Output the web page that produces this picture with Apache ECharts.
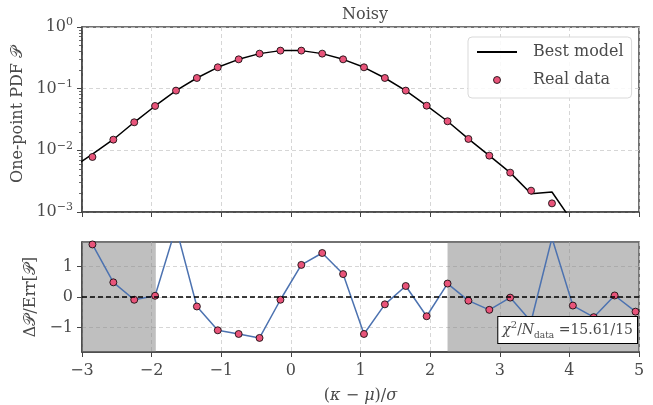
<!DOCTYPE html>
<html><head><meta charset="utf-8">
<script src="https://cdn.jsdelivr.net/npm/echarts@6/dist/echarts.min.js"></script>
<style>html,body{margin:0;padding:0;background:#fff}#c{width:653px;height:405px}</style>
</head><body><div id="c"></div>
<script>
// ---- data ----
const xVals = [-2.85,-2.55,-2.25,-1.95,-1.65,-1.35,-1.05,-0.75,-0.45,-0.15,0.15,0.45,0.75,1.05,1.35,1.65,1.95,2.25,2.55,2.85,3.15,3.45,3.75,4.05,4.35,4.65,4.95];
// real data (points visible above 1e-3, x = -2.85 ... 3.75)
const realData = [0.0078,0.0149,0.0285,0.0524,0.093,0.149,0.222,0.299,0.370,0.414,0.414,0.370,0.299,0.222,0.149,0.093,0.053,0.0296,0.0153,0.0082,0.00435,0.00222,0.00138];
// best model line
const modelX = [-3.15,-2.85,-2.55,-2.25,-1.95,-1.65,-1.35,-1.05,-0.75,-0.45,-0.15,0.15,0.45,0.75,1.05,1.35,1.65,1.95,2.25,2.55,2.85,3.15,3.45,3.75,4.05];
const modelVals = [0.0051,0.0087,0.0150,0.0285,0.0524,0.093,0.149,0.222,0.299,0.370,0.414,0.414,0.370,0.299,0.222,0.149,0.093,0.053,0.0296,0.0153,0.0082,0.00435,0.00197,0.00211,0.00068];
// normalised residuals
const residuals = [1.72,0.48,-0.09,0.04,2.28,-0.31,-1.09,-1.21,-1.34,-0.09,1.05,1.44,0.75,-1.21,-0.24,0.36,-0.63,0.44,-0.12,-0.42,-0.02,-0.80,1.93,-0.28,-0.66,0.05,-0.48];
const shadedRanges = [[-3,-1.94],[2.25,5]];
const logTicks = [0.001,0.01,0.1,1];
const minorLogTicks = [0.002,0.003,0.004,0.005,0.006,0.007,0.008,0.009,0.02,0.03,0.04,0.05,0.06,0.07,0.08,0.09,0.2,0.3,0.4,0.5,0.6,0.7,0.8,0.9];
const residTicks = [-1,0,1];
const chi2 = {value: '15.61', n: '15'};

const FONT = 'DejaVu Serif';
const TXT = '#4a4a4a';
const SPINE = '#444';
const GRIDC = '#cccccc';
const PINK = '#e8547a';
const BLUE = '#4c72b0';

const supRich = {
  b: {fontFamily: FONT, fontSize: 16, color: TXT, lineHeight: 20, verticalAlign: 'middle'},
  s: {fontFamily: FONT, fontSize: 11, color: TXT, lineHeight: 8, verticalAlign: 'top'}
};
const minus = s => String(s).replace('-', '\u2212');

const chart = echarts.init(document.getElementById('c'), null, {renderer: 'canvas'});
const splitLine = {show: true, lineStyle: {color: GRIDC, type: [4, 3], width: 0.8}};

const option = {
  animation: false,
  backgroundColor: '#fff',
  title: {
    text: 'Noisy', left: 360, top: 2, textAlign: 'center',
    textStyle: {fontFamily: FONT, fontSize: 16, fontWeight: 'normal', color: TXT}
  },
  legend: {
    data: [
      {name: 'Best model', itemStyle: {color: 'rgba(0,0,0,0)', borderColor: 'rgba(0,0,0,0)', borderWidth: 0}},
      {name: 'Real data', itemStyle: {color: PINK, borderColor: '#000', borderWidth: 0.8}}
    ],
    orient: 'vertical', left: 468, top: 37,
    itemWidth: 40, itemHeight: 7, itemGap: 8,
    padding: [5, 8, 8, 8],
    backgroundColor: 'rgba(255,255,255,0.85)', borderColor: '#d9d9d9', borderWidth: 1, borderRadius: 4,
    textStyle: {fontFamily: FONT, fontSize: 16, color: TXT, lineHeight: 20, padding: [0, 0, 0, 11]}
  },
  grid: [
    {left: 82, right: 14, top: 27, height: 185, show: true, borderColor: SPINE, borderWidth: 1.5, backgroundColor: 'transparent'},
    {left: 82, right: 14, top: 242, height: 110, show: true, borderColor: SPINE, borderWidth: 1.5, backgroundColor: 'transparent'}
  ],
  xAxis: [
    {type: 'value', gridIndex: 0, min: -3, max: 5, interval: 1, position: 'bottom',
     axisLine: {show: true, onZero: false, lineStyle: {color: SPINE, width: 1.5}},
     axisTick: {show: true, length: 5, lineStyle: {color: SPINE, width: 1}},
     axisLabel: {show: false}, splitLine: splitLine},
    {type: 'value', gridIndex: 1, min: -3, max: 5, interval: 1, position: 'bottom',
     name: '{p|(}{i|κ}{p| − }{i|μ}{p|)/}{i|σ}', nameLocation: 'middle', nameGap: 36,
     nameTextStyle: {rich: {
       p: {fontFamily: FONT, fontSize: 16, color: TXT},
       i: {fontFamily: FONT, fontSize: 16, color: TXT, fontStyle: 'italic'}}},
     axisLine: {show: true, onZero: false, lineStyle: {color: SPINE, width: 1.5}},
     axisTick: {show: true, length: 5, lineStyle: {color: SPINE, width: 1}},
     axisLabel: {margin: 11, fontFamily: FONT, fontSize: 16, color: TXT, formatter: v => minus(v)},
     splitLine: splitLine}
  ],
  yAxis: [
    {type: 'log', gridIndex: 0, min: 0.001, max: 1, logBase: 10, position: 'left',
     name: '{t|One-point PDF }{p|𝒫}', nameLocation: 'middle', nameGap: 56, nameRotate: 90,
     nameTextStyle: {padding: [0, 0, 0, 10], rich: {
       t: {fontFamily: FONT, fontSize: 16, color: TXT},
       p: {fontFamily: FONT, fontSize: 16, color: TXT}}},
     axisLine: {show: true, onZero: false, lineStyle: {color: SPINE, width: 1.5}},
     axisTick: {show: true, length: 5, lineStyle: {color: SPINE, width: 1}},
     axisLabel: {margin: 9, rich: supRich,
       formatter: v => '{b|10}{s|' + minus(Math.round(Math.log10(v))) + '}'},
     splitLine: splitLine},
    {type: 'log', gridIndex: 0, min: 0.001, max: 1, logBase: 10, position: 'left', offset: 0,
     axisLine: {show: false, onZero: false}, axisLabel: {show: false}, splitLine: {show: false},
     axisTick: {show: true, length: 3, customValues: minorLogTicks, lineStyle: {color: SPINE, width: 0.8}}},
    {type: 'value', gridIndex: 1, min: -1.8, max: 1.8, position: 'left',
     name: '{d|Δ}{p|𝒫}{t|/Err[}{p|𝒫}{t|]}', nameLocation: 'middle', nameGap: 39, nameRotate: 90,
     nameTextStyle: {rich: {
       d: {fontFamily: FONT, fontSize: 16, color: TXT},
       t: {fontFamily: FONT, fontSize: 16, color: TXT},
       p: {fontFamily: FONT, fontSize: 16, color: TXT}}},
     axisLine: {show: true, onZero: false, lineStyle: {color: SPINE, width: 1.5}},
     axisTick: {show: true, length: 5, customValues: residTicks, lineStyle: {color: SPINE, width: 1}},
     axisLabel: {margin: 9, fontFamily: FONT, fontSize: 16, color: TXT, customValues: residTicks, formatter: v => minus(v)},
     splitLine: splitLine}
  ],
  series: [
    {name: 'Best model', type: 'line', xAxisIndex: 0, yAxisIndex: 0,
     data: modelX.map((x, i) => [x, modelVals[i]]),
     symbol: 'none', clip: true, z: 3,
     lineStyle: {color: '#000', width: 1.5}, itemStyle: {color: '#000'}},
    {name: 'Real data', type: 'scatter', xAxisIndex: 0, yAxisIndex: 0,
     data: realData.map((v, i) => [xVals[i], v]),
     symbol: 'circle', symbolSize: 7, z: 4,
     itemStyle: {color: PINK, borderColor: '#000', borderWidth: 0.8, opacity: 1}},
    {name: 'shade', type: 'line', xAxisIndex: 1, yAxisIndex: 2, data: [], z: 1,
     markArea: {silent: true, itemStyle: {color: 'rgba(128,128,128,0.5)'},
       data: shadedRanges.map(r => [{xAxis: r[0]}, {xAxis: r[1]}])}},
    {name: 'zero', type: 'line', xAxisIndex: 1, yAxisIndex: 2, data: [], z: 2,
     markLine: {silent: true, symbol: ['none', 'none'], label: {show: false},
       lineStyle: {color: '#000', type: [5, 3], width: 1.6}, data: [{yAxis: 0}]}},
    {name: 'Residual', type: 'line', xAxisIndex: 1, yAxisIndex: 2,
     data: residuals.map((v, i) => [xVals[i], v]),
     symbol: 'circle', symbolSize: 7, showSymbol: true, clip: true, z: 3,
     lineStyle: {color: BLUE, width: 1.5},
     itemStyle: {color: PINK, borderColor: '#000', borderWidth: 0.8}}
  ],
  graphic: [{
    type: 'text', right: 15, bottom: 61, z: 100,
    style: {
      text: '{i|χ}{s|2}{t|/}{i|N}{d|data}{t| =' + chi2.value + '/' + chi2.n + '}',
      rich: {
        i: {fontFamily: FONT, fontSize: 14, fontStyle: 'italic', fill: TXT, lineHeight: 20, verticalAlign: 'middle'},
        t: {fontFamily: FONT, fontSize: 14, fill: TXT, lineHeight: 20, verticalAlign: 'middle'},
        s: {fontFamily: FONT, fontSize: 10, fill: TXT, lineHeight: 8, verticalAlign: 'top'},
        d: {fontFamily: FONT, fontSize: 9, fill: TXT, lineHeight: 10, verticalAlign: 'bottom'}
      },
      backgroundColor: '#fff', borderColor: '#000', borderWidth: 1, padding: [3, 4, 3, 4]
    }
  }]
};
chart.setOption(option);
</script></body></html>
